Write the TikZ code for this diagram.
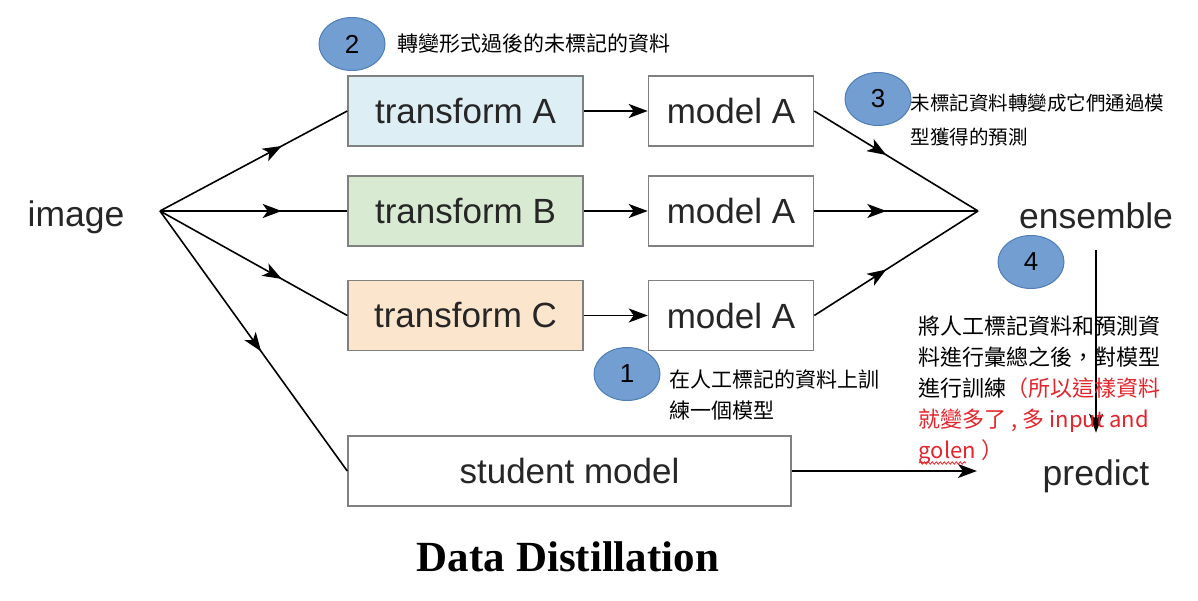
\documentclass[tikz,border=0pt]{standalone}
\usepackage{fontspec}
\setmainfont{Liberation Sans}
\newfontfamily\cjk{Noto Sans CJK TC}
\newfontfamily\titlefont{Liberation Serif}
\usetikzlibrary{positioning}
\usetikzlibrary{arrows.meta}
\usetikzlibrary{decorations.pathmorphing,decorations.markings}
\usetikzlibrary{shapes}
\definecolor{tfblue}{HTML}{DDEEF5}
\definecolor{tfgreen}{HTML}{D9EAD3}
\definecolor{tforange}{HTML}{FCE5CD}
\definecolor{boxgray}{HTML}{808080}
\definecolor{txtgray}{HTML}{262626}
\definecolor{numblue}{HTML}{729ED2}
\definecolor{numedge}{HTML}{4F7DB6}
\definecolor{notered}{HTML}{E3242B}
\tikzset{
box/.style={
  draw=boxgray,
  line width=1.5pt,
  minimum height=70pt,
  inner sep=0pt,
  text=txtgray,
  font=\fontsize{35}{40}\selectfont
  },
tf/.style={box, minimum width=235pt},
md/.style={box, minimum width=165pt},
lbl/.style={inner sep=0pt, text=txtgray, font=\fontsize{35.5}{40}\selectfont},
num/.style={
  ellipse,
  draw=numedge,
  fill=numblue,
  line width=1pt,
  inner sep=0pt,
  minimum width=66pt,
  minimum height=53pt,
  font=\fontsize{26}{30}\selectfont
  },
note/.style={inner sep=0pt, align=left, anchor=west, font=\cjk\fontsize{21}{31}\selectfont},
midarrow/.style={postaction={decorate},
  decoration={markings,mark=at position #1 with {\arrow{>}}}}
}

\begin{document}
\begin{tikzpicture}[x=1pt,y=-1pt,>={Stealth[length=19pt,width=14pt,inset=5pt]},line width=1.6pt]
\useasboundingbox (0,0) rectangle (1198,601);
            % main flow
            \node[lbl]              (img) at (76,217) {image};
            \coordinate             (split) at (160,211);
            \node[tf,fill=tfblue]   (ta) at (465.5,111) {transform A};
            \node[tf,fill=tfgreen]  (tb) at (465.5,211) {transform B};
            \node[tf,fill=tforange] (tc) at (465.5,315.5) {transform C};
            \node[md]               (ma) [right=64pt of ta] {model A};
            \node[md]               (mb) [right=64pt of tb] {model A};
            \node[md]               (mc) [right=64pt of tc] {model A};
            \node[box,minimum width=443pt] (stu) at (569.5,471) {student model};
            \coordinate             (join) at (978,211);
            \node[lbl]              (ens) at (1096,216) {ensemble};
            \node[lbl]              (pred) at (1096,476) {predict};
            \draw[midarrow=0.65] (split) -- (ta.west);
            \draw[midarrow=0.65] (split) -- (tb.west);
            \draw[midarrow=0.65] (split) -- (tc.west);
            \draw[midarrow=0.54] (split) -- (stu.west);
            \draw[->] (ta) -- (ma);
            \draw[->] (tb) -- (mb);
            \draw[->] (tc) -- (mc);
            \draw[midarrow=0.44] (ma.east) -- (join);
            \draw[midarrow=0.44] (mb.east) -- (join);
            \draw[midarrow=0.44] (mc.east) -- (join);
            \draw[->,shorten <=20pt,shorten >=26pt] (ens.south) -- (pred.north);
            \draw[->,shorten >=65pt] (stu.east) -- (stu.east -| pred.west);
            % numbered notes
            \node[num] (n2) at (352,44) {2};
            \node[num] (n3) at (878,99) {3};
            \node[num] (n1) at (627,374) {1};
            \node[num] (n4) at (1031,262) {4};
            \node[note] (t2) [right=11pt of n2] {轉變形式過後的未標記的資料};
            \node[note,font=\cjk\fontsize{19.5}{34}\selectfont] (t3) at (910,120)
                {未標記資料轉變成它們通過模\\型獲得的預測};
            \node[note] (t1) at (669,394.5) {在人工標記的資料上訓\\練一個模型};
            \node[note,font=\cjk\fontsize{22}{31}\selectfont] (t4) at (918,390)
                {將人工標記資料和預測資\\
                 料進行彙總之後，對模型\\
                 進行訓練\textcolor{notered}{（所以這樣資料}\\
                 \textcolor{notered}{就變多了 , 多 input and}\\
                 \textcolor{notered}{golen ）}};
            \draw[notered,line width=0.8pt,decorate,
                  decoration={snake,amplitude=1.2pt,segment length=4pt}] (919,463) -- (966,463);
            % title
            \node[font=\titlefont\bfseries\fontsize{43}{48}\selectfont] (title) at (568,557) {Data Distillation};
        \end{tikzpicture}
\end{document}
